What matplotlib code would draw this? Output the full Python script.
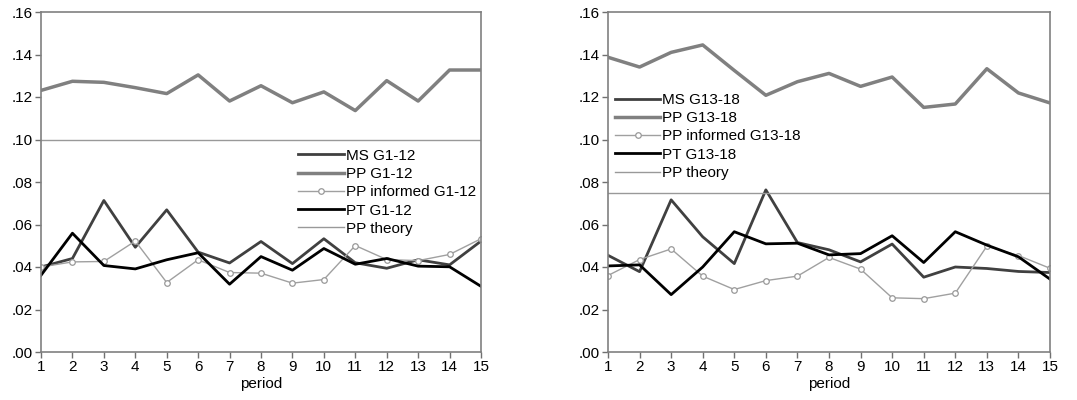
import matplotlib
matplotlib.use("Agg")
import matplotlib.pyplot as plt
import numpy as np

plt.rcParams['font.family'] = ['Liberation Sans', 'DejaVu Sans']

periods = list(range(1, 16))

# Left panel: G1-12
ms_g1 = [0.040, 0.044, 0.0713, 0.0493, 0.0669, 0.047, 0.0419, 0.052, 0.0416, 0.0533, 0.042, 0.0394, 0.0434, 0.041, 0.0522]
pp_g1 = [0.1231, 0.1274, 0.1269, 0.1244, 0.1216, 0.1304, 0.1181, 0.1253, 0.1173, 0.1224, 0.1136, 0.1277, 0.1181, 0.1327, 0.1327]
ppi_g1 = [0.040, 0.0424, 0.0426, 0.0522, 0.0327, 0.0434, 0.0374, 0.0371, 0.0324, 0.0341, 0.0501, 0.0435, 0.043, 0.0459, 0.0533]
pt_g1 = [0.0361, 0.0559, 0.0407, 0.0391, 0.0434, 0.0467, 0.0319, 0.0449, 0.0385, 0.0487, 0.0413, 0.044, 0.0404, 0.0401, 0.0309]
theory_g1 = 0.10

# Right panel: G13-18
ms_g13 = [0.0455, 0.0378, 0.0716, 0.0542, 0.0416, 0.0763, 0.0515, 0.0481, 0.0424, 0.0508, 0.0352, 0.040, 0.0393, 0.0379, 0.0374]
pp_g13 = [0.1387, 0.1341, 0.141, 0.1445, 0.1325, 0.1208, 0.1272, 0.1311, 0.125, 0.1294, 0.1151, 0.1167, 0.1333, 0.1219, 0.1172]
ppi_g13 = [0.036, 0.0435, 0.0485, 0.0357, 0.0294, 0.0336, 0.0357, 0.0445, 0.039, 0.0255, 0.0251, 0.0277, 0.0498, 0.0454, 0.0394]
pt_g13 = [0.0405, 0.041, 0.027, 0.040, 0.0566, 0.0509, 0.0512, 0.0457, 0.0463, 0.0547, 0.0421, 0.0566, 0.0503, 0.0448, 0.0343]
theory_g13 = 0.075

yticks = [0.00, 0.02, 0.04, 0.06, 0.08, 0.10, 0.12, 0.14, 0.16]
ytick_labels = ['.00', '.02', '.04', '.06', '.08', '.10', '.12', '.14', '.16']

fig = plt.figure(figsize=(10.77, 4.0), dpi=100)
ax1 = fig.add_axes([41/1077, 48/400, 440/1077, 340/400])
ax2 = fig.add_axes([608/1077, 48/400, 442/1077, 340/400])

def draw(ax, ms, pp, ppi, pt, theory, tag, legend_anchor):
    ax.plot(periods, ms, color='#404040', lw=2.0, label=f'MS {tag}')
    ax.plot(periods, pp, color='#808080', lw=2.5, label=f'PP {tag}')
    ax.plot(periods, ppi, color='#a0a0a0', lw=1.0, marker='o', markersize=4,
            markerfacecolor='white', markeredgecolor='#999999', markeredgewidth=0.9,
            label=f'PP informed {tag}')
    ax.plot(periods, pt, color='#000000', lw=2.0, label=f'PT {tag}')
    ax.axhline(theory, color='#999999', lw=1.0, label='PP theory')
    ax.set_xlim(1, 15)
    ax.set_ylim(0, 0.16)
    ax.set_xticks(periods)
    ax.set_xticklabels([str(p) for p in periods], fontsize=11)
    ax.set_yticks(yticks)
    ax.set_yticklabels(ytick_labels, fontsize=11)
    ax.tick_params(direction='out', length=4, width=1, color='#707070', pad=2)
    for s in ax.spines.values():
        s.set_color('#808080')
        s.set_linewidth(1.2)
    ax.set_xlabel('period', fontsize=11, labelpad=2)
    leg = ax.legend(loc='upper left', bbox_to_anchor=legend_anchor, frameon=False,
                    fontsize=11, handlelength=3.0, handletextpad=0.12,
                    labelspacing=0.28, borderaxespad=0, borderpad=0)
    return leg

draw(ax1, ms_g1, pp_g1, ppi_g1, pt_g1, theory_g1, 'G1-12', (0.585, 0.598))
draw(ax2, ms_g13, pp_g13, ppi_g13, pt_g13, theory_g13, 'G13-18', (0.015, 0.762))

fig.savefig('out.png', dpi=100)
